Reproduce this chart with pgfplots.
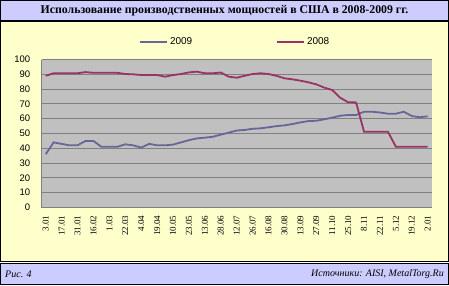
\documentclass[border=0pt]{standalone}
\usepackage{fontspec}
\setmainfont{Liberation Serif}
\newfontfamily\sansf{Liberation Sans}
\usepackage{pgfplots}
\pgfplotsset{compat=1.18}
\definecolor{lav}{HTML}{CCCCFF}
\definecolor{ylw}{HTML}{FFFFCC}
\definecolor{plotbg}{HTML}{C0C0C0}
\definecolor{gridc}{HTML}{808080}
\definecolor{cA}{HTML}{666699}
\definecolor{cB}{HTML}{993366}
\pgfplotstableread{
i v
0 36
1 44
2 43
3 42
4 42
5 45
6 45
7 41
8 41
9 41
10 42.7
11 42
12 40.5
13 43
14 42
15 42
16 42.5
17 44
18 45.5
19 46.7
20 47.2
21 47.8
22 49.2
23 50.6
24 52
25 52.4
26 53.2
27 53.5
28 54.2
29 55
30 55.5
31 56.4
32 57.5
33 58.4
34 58.6
35 59.6
36 60.7
37 62
38 62.5
39 62.5
40 64.7
41 64.7
42 64.2
43 63.4
44 63.4
45 64.7
46 61.8
47 61
48 61.6
}\dataA
\pgfplotstableread{
i v
0 89
1 90.7
2 90.7
3 90.7
4 90.7
5 91.5
6 91
7 91
8 91
9 91
10 90.2
11 90
12 89.5
13 89.5
14 89.5
15 88.4
16 89.5
17 90.2
18 91.3
19 91.8
20 90.7
21 90.7
22 91.2
23 88.4
24 87.7
25 89
26 90.2
27 90.7
28 90.2
29 89
30 87.3
31 86.6
32 85.7
33 84.6
34 83.2
35 81
36 79.4
37 74.2
38 71.1
39 71
40 51.2
41 51.2
42 51.2
43 51.2
44 41
45 41
46 41
47 41
48 41
}\dataB
\begin{document}
\begin{tikzpicture}[x=1pt,y=1pt]
\path[use as bounding box] (0,0) rectangle (449,285);
\draw[fill=lav, line width=1pt] (0.5,265) rectangle (448.5,284.5);
\node[font=\bfseries\fontsize{11.8}{11.8}\selectfont, inner sep=0pt] at (224.5,274.5) {Использование производственных мощностей в США в 2008-2009 гг.};
\draw[fill=ylw, line width=1.2pt] (0.6,23.3) rectangle (448.4,263.4);
\draw[fill=lav, line width=1pt] (0.5,0.5) rectangle (448.5,21.3);
\node[font=\itshape\fontsize{10}{10}\selectfont, anchor=west, inner sep=0pt] at (5,11) {Рис. 4};
\node[font=\itshape\fontsize{10}{10}\selectfont, anchor=east, inner sep=0pt] at (444,11) {Источники: AISI, MetalTorg.Ru};
\begin{axis}[
  at={(41.7pt,77.5pt)}, anchor=south west,
  width=390pt, height=148pt, scale only axis,
  xmin=-0.5, xmax=48.5, ymin=0, ymax=100,
  axis background/.style={fill=plotbg},
  axis x line*=bottom, axis y line*=left,
  axis line style={gridc, line width=1pt},
  ymajorgrids, grid style={gridc, line width=0.9pt},
  major tick length=0pt,
  ytick={0,10,...,100},
  xtick={0,2,...,48},
  xticklabels={3.01,17.01,31.01,16.02,1.03,22.03,4.04,19.04,10.05,23.05,13.06,28.06,12.07,26.07,16.08,30.08,13.09,27.09,11.10,25.10,8.11,22.11,5.12,19.12,2.01},
  xticklabel style={yshift=-8pt, rotate=90, anchor=east, inner sep=0pt, font=\fontsize{9}{9}\selectfont},
  yticklabel style={font=\sansf\fontsize{9.5}{9.5}\selectfont, xshift=-8pt},
  /pgf/number format/assume math mode=true,
  legend style={at={(axis description cs:0.2495,1.118)}, anchor=west, draw=none, fill=none, inner sep=0pt,
    font=\sansf\fontsize{10}{10}\selectfont, legend columns=2,
    /tikz/every even column/.append style={column sep=82pt}},
  legend image code/.code={\draw[#1] (0pt,0pt) -- (27pt,0pt);},
]
\addplot[cA, line width=1.8pt, no markers] table[x=i,y=v] {\dataA};
\addlegendentry{2009}
\addplot[cB, line width=1.8pt, no markers] table[x=i,y=v] {\dataB};
\addlegendentry{2008}
\end{axis}
\end{tikzpicture}
\end{document}
